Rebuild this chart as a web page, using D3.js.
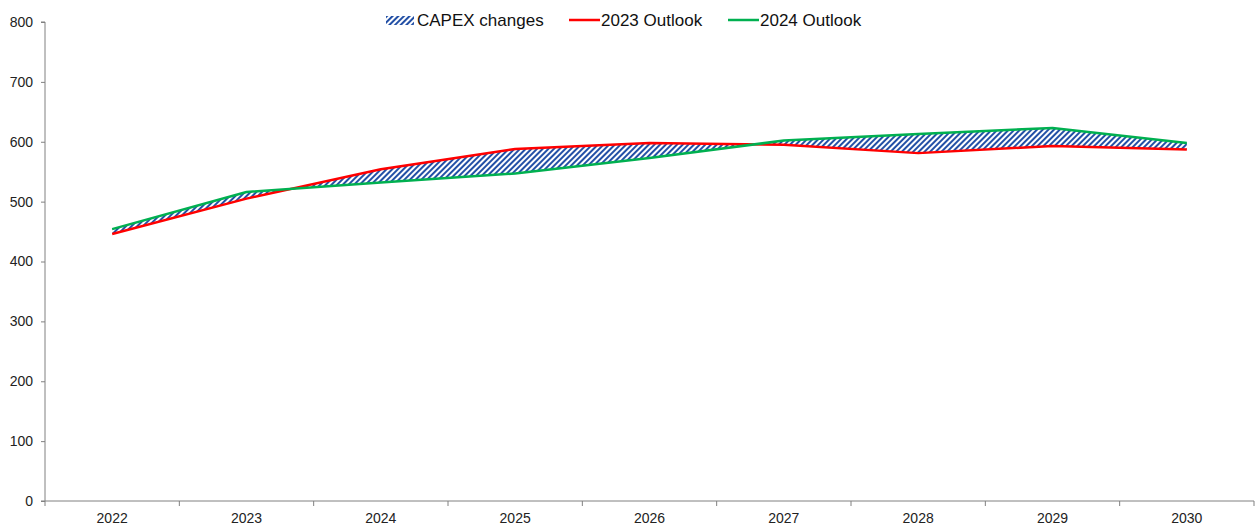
<!DOCTYPE html>
<html>
<head>
<meta charset="utf-8">
<script src="https://cdn.jsdelivr.net/npm/d3@7/dist/d3.min.js"></script>
<style>
  html, body { margin: 0; padding: 0; background: #ffffff; }
  svg { display: block; font-family: "Liberation Sans", Arial, sans-serif; }
</style>
</head>
<body>
<svg id="chart" width="1260" height="527"></svg>
<script>
// Forecast years and the two capex outlooks
const years = ["2022", "2023", "2024", "2025", "2026", "2027", "2028", "2029", "2030"];
const outlook2023 = [446, 505, 554, 588, 598, 595, 581, 593, 587];
const outlook2024 = [454, 516, 532, 547, 573, 602, 613, 623, 598];
const yTicks = [0, 100, 200, 300, 400, 500, 600, 700, 800];
const legendLabels = ["CAPEX changes", "2023 Outlook", "2024 Outlook"];

const svg = d3.select("#chart");
const margin = { left: 45, right: 6, top: 22, bottom: 26 };
const W = 1260, H = 527;

const x = d3.scaleBand().domain(years).range([margin.left, W - margin.right]).paddingInner(0).paddingOuter(0);
const y = d3.scaleLinear().domain([0, 800]).range([H - margin.bottom, margin.top]);
const cx = d => x(d) + x.bandwidth() / 2;

// Diagonal hatch for the band between outlooks
const defs = svg.append("defs");
const pat = defs.append("pattern")
  .attr("id", "hatch")
  .attr("patternUnits", "userSpaceOnUse")
  .attr("width", 4).attr("height", 4)
  .attr("patternTransform", "rotate(45)");
pat.append("rect").attr("width", 4).attr("height", 4).attr("fill", "#ffffff");
pat.append("rect").attr("width", 2).attr("height", 4).attr("fill", "#2350a6");

const rows = years.map((yr, i) => ({ yr, a: outlook2023[i], b: outlook2024[i] }));

// Band between the two outlooks
svg.append("path")
  .datum(rows)
  .attr("d", d3.area().x(d => cx(d.yr)).y0(d => y(d.a)).y1(d => y(d.b)))
  .attr("fill", "url(#hatch)");

// Axes
const yAxis = d3.axisLeft(y).tickValues(yTicks).tickSize(4).tickPadding(8);
const gy = svg.append("g").attr("transform", `translate(${margin.left},0)`).call(yAxis);
gy.select(".domain").attr("stroke", "#808080").attr("d", `M-4,${y(0)}H0V${y(800)}H-4`);
gy.selectAll(".tick line").attr("stroke", "#808080");
gy.selectAll(".tick text").attr("fill", "#222").attr("font-size", 14).attr("font-family", "Liberation Sans, Arial, sans-serif");

const gx = svg.append("g").attr("transform", `translate(0,${y(0)})`);
gx.append("line")
  .attr("x1", margin.left).attr("x2", W - margin.right)
  .attr("y1", 0).attr("y2", 0).attr("stroke", "#808080");
const edges = years.map(d => x(d)).concat([x(years[years.length - 1]) + x.bandwidth()]);
gx.selectAll("line.edge").data(edges).join("line")
  .attr("class", "edge")
  .attr("x1", d => d).attr("x2", d => d)
  .attr("y1", 0).attr("y2", 5).attr("stroke", "#808080");
gx.selectAll("text").data(years).join("text")
  .attr("x", d => cx(d)).attr("y", 22)
  .attr("text-anchor", "middle")
  .attr("font-size", 14).attr("fill", "#222")
  .text(d => d);

// Outlook lines
const line = d3.line().x(d => cx(d.yr)).y(d => y(d.v));
svg.append("path")
  .datum(years.map((yr, i) => ({ yr, v: outlook2023[i] })))
  .attr("d", line).attr("fill", "none")
  .attr("stroke", "#ff0000").attr("stroke-width", 2.5).attr("stroke-linejoin", "round");
svg.append("path")
  .datum(years.map((yr, i) => ({ yr, v: outlook2024[i] })))
  .attr("d", line).attr("fill", "none")
  .attr("stroke", "#00b050").attr("stroke-width", 2.5).attr("stroke-linejoin", "round");

// Legend
const lg = svg.append("g").attr("font-size", 17).attr("fill", "#111");
lg.append("rect").attr("x", 386).attr("y", 16).attr("width", 28).attr("height", 9).attr("fill", "url(#hatch)");
lg.append("text").attr("x", 417).attr("y", 26).text(legendLabels[0]);
lg.append("line").attr("x1", 569).attr("x2", 600).attr("y1", 20).attr("y2", 20).attr("stroke", "#ff0000").attr("stroke-width", 2.5);
lg.append("text").attr("x", 601).attr("y", 26).text(legendLabels[1]);
lg.append("line").attr("x1", 728).attr("x2", 759).attr("y1", 20).attr("y2", 20).attr("stroke", "#00b050").attr("stroke-width", 2.5);
lg.append("text").attr("x", 760).attr("y", 26).text(legendLabels[2]);
</script>
</body>
</html>
